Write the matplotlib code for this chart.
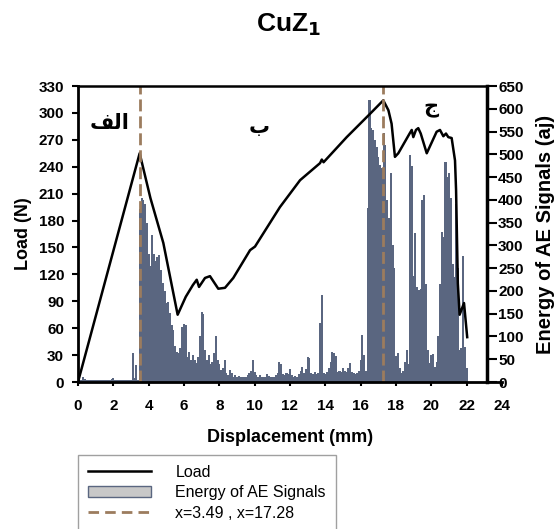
import numpy as np
import matplotlib
matplotlib.use("Agg")
import matplotlib.pyplot as plt
from matplotlib.lines import Line2D
from matplotlib.patches import Patch

plt.rcParams['font.family'] = ['Liberation Sans', 'DejaVu Sans']

# load curve (N) vs displacement (mm)
load_x = [0, 3.49, 4.1, 4.83, 5.64, 6.1, 6.5, 6.72, 6.85, 7.19, 7.47, 7.94, 8.32,
          8.79, 9.74, 10.02, 11.43, 12.57, 13.7, 13.8, 13.9, 15.21, 16.53, 17.28,
          17.57, 17.75, 17.94, 18.13, 18.77, 18.89, 18.98, 19.13, 19.26, 19.4,
          19.74, 20.3, 20.49, 20.68, 20.83, 20.96, 21.15, 21.34, 21.4, 21.5,
          21.6, 21.85, 22.03]
load_n = [0, 255, 205, 155, 75, 95, 108, 114, 106, 116, 118, 104, 105,
          116, 147, 151, 195, 225, 244, 248, 245, 273, 299, 314,
          303, 288, 251, 255, 277, 281, 273, 281, 283, 277,
          255, 279, 281, 274, 277, 273, 272, 247, 214, 110,
          75, 88, 50]

# AE energy (aj), one bar every 0.1 mm from 0 to 22 mm
ae_x = np.arange(221) * 0.1
ae_energy = [
    0, 4, 5, 10, 6, 5, 5, 4, 5, 5,
    4, 5, 5, 4, 5, 5, 4, 5, 5, 6,
    9, 5, 4, 5, 5, 4, 5, 5, 4, 5,
    5, 64, 8, 37, 5, 380, 403, 400, 390, 350,
    280, 255, 323, 280, 265, 275, 278, 246, 217, 200,
    173, 175, 151, 125, 114, 78, 65, 63, 75, 121,
    128, 125, 54, 65, 48, 60, 48, 41, 55, 100,
    154, 150, 70, 48, 60, 40, 45, 63, 100, 48,
    40, 26, 30, 48, 19, 15, 26, 19, 12, 15,
    12, 14, 10, 12, 10, 12, 15, 20, 25, 48,
    22, 15, 12, 16, 12, 10, 12, 18, 14, 12,
    10, 12, 15, 20, 43, 40, 18, 16, 20, 18,
    29, 15, 12, 14, 12, 18, 25, 32, 20, 28,
    54, 52, 20, 18, 22, 18, 20, 129, 190, 20,
    18, 22, 30, 45, 66, 64, 58, 22, 25, 22,
    30, 25, 22, 30, 41, 22, 20, 18, 20, 25,
    48, 103, 60, 25, 381, 620, 557, 553, 531, 517,
    495, 477, 469, 546, 520, 400, 360, 458, 300, 250,
    56, 63, 30, 20, 25, 45, 70, 40, 498, 474,
    232, 327, 209, 202, 205, 400, 411, 216, 70, 41,
    59, 62, 33, 45, 100, 216, 330, 319, 484, 451,
    460, 405, 260, 230, 390, 250, 70, 75, 277, 77,
    30,
]

marks = [3.49, 17.28]
regions = ['\ufed2\ufedf\ufe8d', '\ufe8f', '\ufe9d']   # الف  ب  ج
region_pos = [(1.8, 289), (10.25, 284), (19.95, 306)]

bar_color = '#5a6680'
dash_color = '#9c7c5e'
dash_style = (4.3, 1.8)

fig = plt.figure(figsize=(5.59, 5.29), dpi=100)
ax = fig.add_axes([78 / 559, 1 - 382 / 529, 424 / 559, 296 / 529])
ax2 = ax.twinx()

# slightly overlapping bars so neighbours merge into one filled profile
ax2.bar(ae_x, ae_energy, width=0.12, color=bar_color, linewidth=0)
ax.plot(load_x, load_n, color='black', lw=1.8)
for m in marks:
    ax.plot([m, m], [0, 330], color=dash_color, lw=2, dashes=dash_style)

for txt, (tx, ty) in zip(regions, region_pos):
    ax.text(tx, ty, txt, fontsize=15, fontweight='bold', ha='center', va='center',
            family='DejaVu Sans')

# primary axes above the bars
ax.set_zorder(ax2.get_zorder() + 1)
ax.patch.set_visible(False)

ax.set_xlim(0, 24)
ax.set_ylim(0, 330)
ax2.set_ylim(0, 650)
ax.set_xticks(np.arange(0, 25, 2))
ax.set_yticks(np.arange(0, 331, 30))
ax2.set_yticks(np.arange(0, 651, 50))

right_edge = 23.15
for s in ['left', 'bottom']:
    ax.spines[s].set_linewidth(2)
ax.spines['top'].set_linewidth(1.8)
ax.spines['top'].set_bounds(0, right_edge)
ax.spines['right'].set_visible(False)
for s in ['left', 'top', 'bottom']:
    ax2.spines[s].set_visible(False)
ax2.spines['right'].set_position(('data', right_edge))
ax2.spines['right'].set_linewidth(2.5)

ax.tick_params(axis='y', direction='out', length=4, width=1.5, pad=6,
               labelsize=11)
ax.tick_params(axis='x', direction='out', length=3, width=1.5, pad=9,
               labelsize=11)
ax2.tick_params(axis='y', direction='out', length=7, width=1.5, pad=1,
                labelsize=11)
for lab in ax.get_xticklabels() + ax.get_yticklabels() + ax2.get_yticklabels():
    lab.set_fontweight('bold')

ax.set_xlabel('Displacement (mm)', fontsize=13, fontweight='bold', labelpad=12)
ax.set_ylabel('Load (N)', fontsize=13, fontweight='bold', labelpad=5)
ax2.set_ylabel('Energy of AE Signals (aj)', fontsize=14.5, fontweight='bold',
               labelpad=9)

fig.text(289 / 559, 1 - 25 / 529, r'CuZ$_\mathbf{1}$', fontsize=19,
         fontweight='bold', ha='center', va='center')

handles = [
    Line2D([], [], color='black', lw=1.8),
    Patch(facecolor='#c8c8c8', edgecolor=bar_color, lw=1),
    Line2D([], [], color=dash_color, lw=2, dashes=(3.8, 2.2)),
]
labels = ['Load', 'Energy of AE Signals', 'x=3.49 , x=17.28']
fig.legend(handles, labels, loc='upper left',
           bbox_to_anchor=(78 / 559, 1 - 455 / 529), borderaxespad=0,
           fontsize=11.5, handlelength=4.0, handleheight=0.6, frameon=True,
           fancybox=False, edgecolor='#888888', borderpad=0.6,
           labelspacing=0.35, handletextpad=1.5)

fig.savefig('out.png', dpi=100)
